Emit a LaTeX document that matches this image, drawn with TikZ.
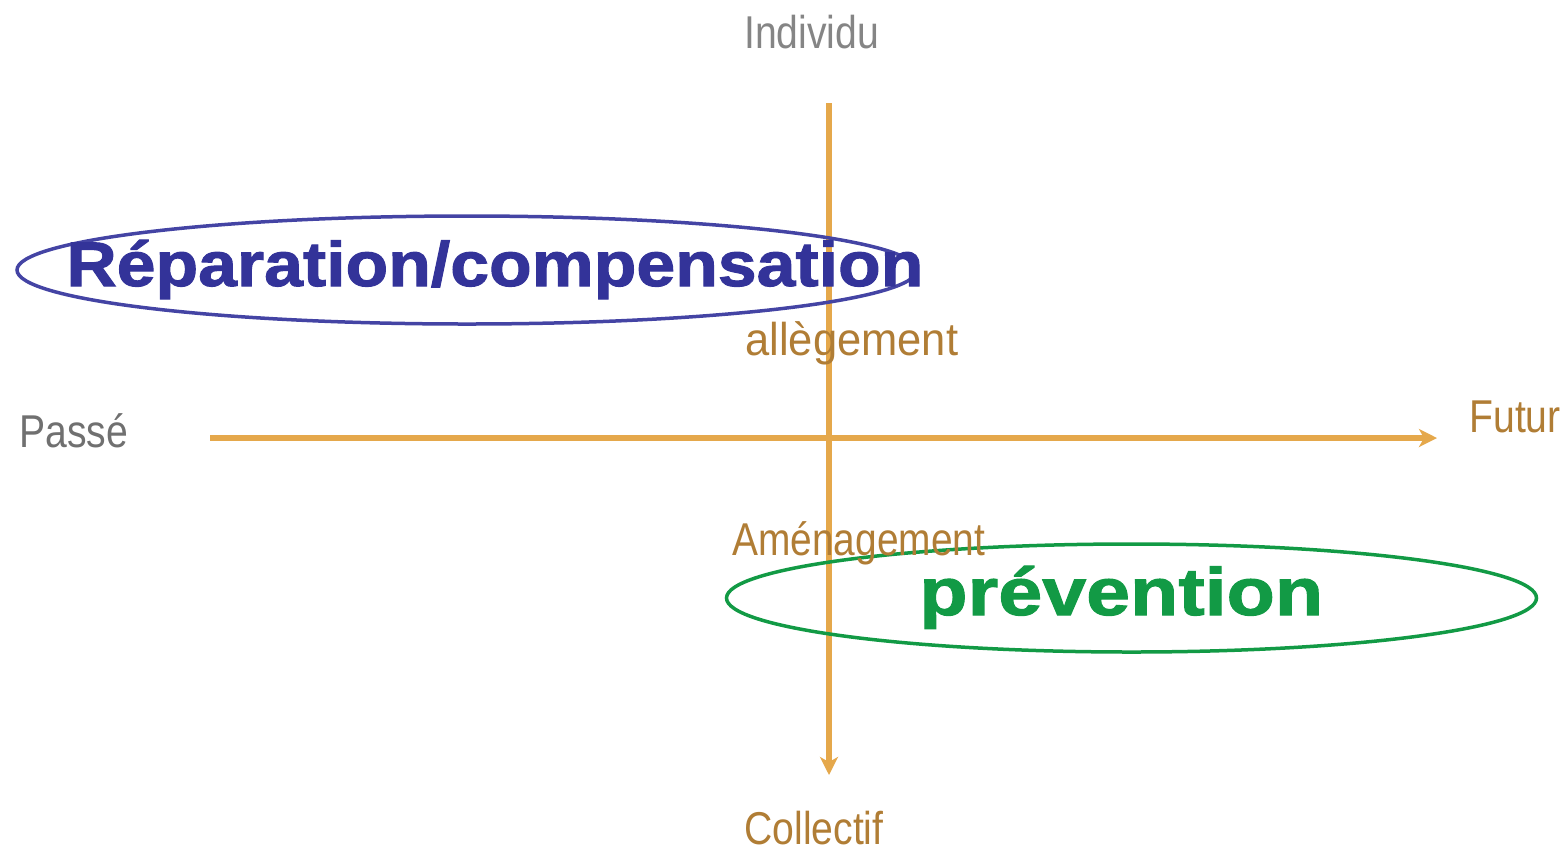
\documentclass[tikz,border=0pt]{standalone}
\usepackage{fontspec}
\setmainfont{Liberation Sans}
\newfontfamily\narrowfont[FakeStretch=0.85]{Liberation Sans}
\newfontfamily\allfont[FakeStretch=0.945]{Liberation Sans}
\newfontfamily\amfont[FakeStretch=0.845]{Liberation Sans}
\newfontfamily\repfont[FakeStretch=1.108,FakeBold=1.6]{Liberation Sans Bold}
\newfontfamily\prevfont[FakeStretch=1.18,FakeBold=1.6]{Liberation Sans Bold}
\usetikzlibrary{arrows.meta}
\definecolor{axisor}{HTML}{E5A84B}
\definecolor{brownt}{HTML}{B07D35}
\definecolor{grayt}{HTML}{707070}
\definecolor{bluet}{HTML}{333399}
\definecolor{bluee}{HTML}{4444A4}
\definecolor{greent}{HTML}{129A45}
\tikzset{
  axisline/.style={draw=axisor, line width=0.115cm, -{Stealth[length=0.36cm,width=0.36cm,inset=0.1cm]}},
  lbl/.style={inner sep=0pt, anchor=base west, font=\narrowfont\fontsize{26.2pt}{30pt}\selectfont},
  oval/.style={line width=0.07cm}
}
\begin{document}
\begin{tikzpicture}[x=0.02cm,y=-0.02cm]
\useasboundingbox (0,0) rectangle (1566,850);
\coordinate (hl) at (210,438);
\coordinate (hr) at (1437,438);
\coordinate (vt) at (829,103);
\coordinate (vb) at (829,775);
\draw[axisline] (hl) -- (hr);
\draw[axisline] (vt) -- (vb);
\draw[oval, draw=bluee] (467,270) ellipse [x radius=450, y radius=54];
\draw[oval, draw=greent] (1131.5,598) ellipse [x radius=405, y radius=54];
\node[lbl, text=grayt!85] (ind) at (744,48) {Individu};
\node[lbl, text=brownt] (col) at (744,844) {Collectif};
\node[lbl, text=brownt] (fut) at (1469,432) {Futur};
\node[lbl, text=grayt] (pas) at (19,447) {Passé};
\node[lbl, text=brownt, font=\allfont\fontsize{26.2pt}{30pt}\selectfont] (all) at (745,355) {allègement};
\node[lbl, text=brownt, font=\amfont\fontsize{26.2pt}{30pt}\selectfont] (ame) at (732,555) {Aménagement};
\node[lbl, text=bluet, font=\repfont\fontsize{35.85pt}{40pt}\selectfont] (rep) at (66,286) {Réparation/compensation};
\node[lbl, text=greent, font=\prevfont\fontsize{38.1pt}{42pt}\selectfont] (prev) at (919,615) {prévention};
\end{tikzpicture}
\end{document}
